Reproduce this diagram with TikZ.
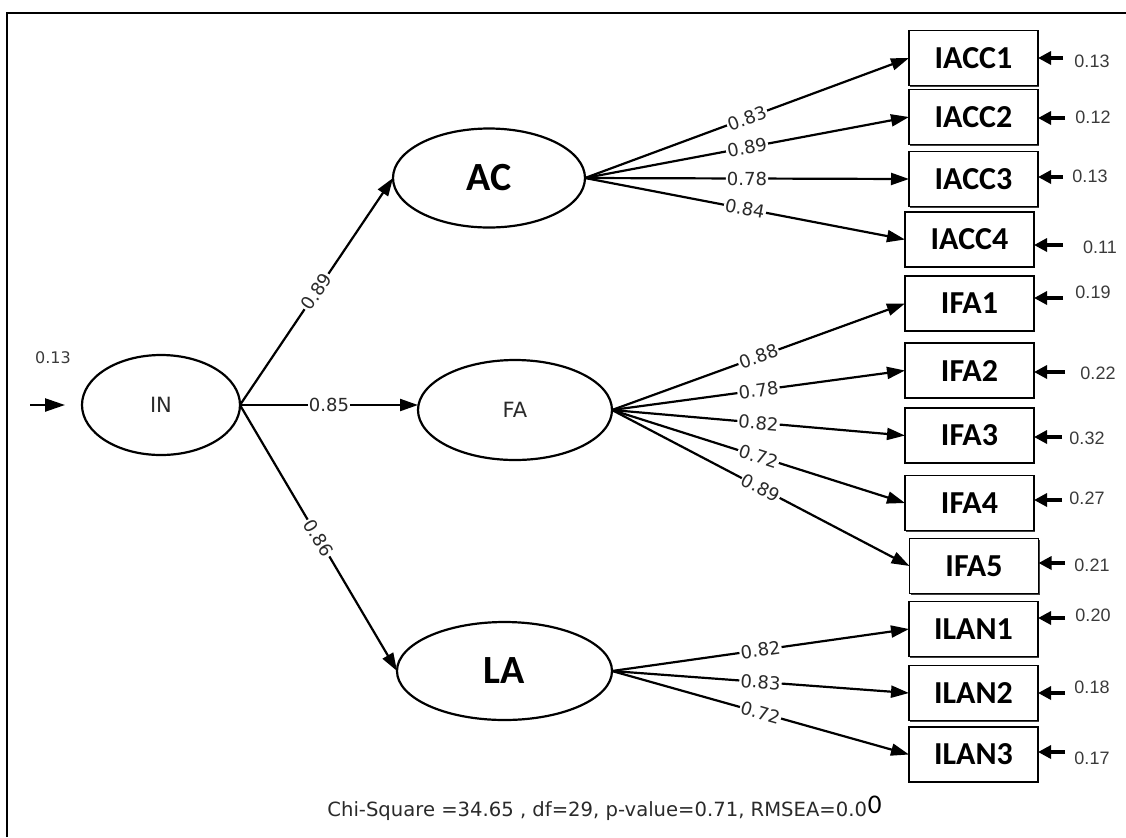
\documentclass[tikz,border=0pt]{standalone}
\usepackage{fontspec}
\setmainfont{DejaVu Sans}
\newfontfamily\carlito{Carlito}
\newfontfamily\libsans{Liberation Sans}
\usetikzlibrary{shapes.geometric,arrows.meta,shadows}
\definecolor{txtgray}{HTML}{2A2A2A}
\definecolor{errgray}{HTML}{3A3A3A}

\begin{document}
\begin{tikzpicture}[x=0.5pt,y=-0.5pt,
  latent/.style={ellipse, draw, line width=1.1pt, inner sep=0pt, outer sep=0pt},
  biglabel/.style={font=\carlito\bfseries\fontsize{20}{22}\selectfont},
  smalllabel/.style={font=\fontsize{10.5}{12}\selectfont, text=txtgray},
  indicator/.style={rectangle, draw, line width=0.9pt, fill=white,
    minimum width=64.5pt, minimum height=27.5pt, inner sep=0pt, outer sep=0pt,
    font=\carlito\bfseries\fontsize{16}{18}\selectfont,
    drop shadow={shadow xshift=0.6pt, shadow yshift=-0.6pt, fill=black, opacity=0.75}},
  load/.style={line width=1.1pt, -{Triangle[length=9pt,width=6pt]}},
  coef/.style={midway, sloped, fill=white, inner sep=0.6pt,
    font=\fontsize{9}{10}\selectfont, text=txtgray},
  err/.style={line width=1.6pt, -{Triangle[length=6.5pt,width=6.5pt]}},
  errlab/.style={font=\libsans\fontsize{9}{10}\selectfont, text=errgray, inner sep=0pt},
  fitlab/.style={inner sep=0pt, anchor=base west}
]
\useasboundingbox (0,0) rectangle (1126,837);

% frame
\draw[line width=1.1pt] (7,837) -- (7,13) -- (1126,13);

% latent variables
\node[latent, minimum width=79pt, minimum height=50pt, smalllabel] (IN) at (161,405) {IN};
\node[latent, minimum width=96pt, minimum height=49.5pt, biglabel] (AC) at (489,178) {AC};
\node[latent, minimum width=97pt, minimum height=50pt, smalllabel] (FA) at (515,410) {FA};
\node[latent, minimum width=107.5pt, minimum height=49pt, biglabel] (LA) at (504.5,671) {LA};

% observed indicators
\node[indicator] (IACC1) at (973.5,58) {IACC1};
\node[indicator] (IACC2) at (973.5,117) {IACC2};
\node[indicator] (IACC3) at (973.5,179) {IACC3};
\node[indicator] (IACC4) at (969.5,239.5) {IACC4};
\node[indicator] (IFA1) at (969.5,303.5) {IFA1};
\node[indicator] (IFA2) at (969.5,370.5) {IFA2};
\node[indicator] (IFA3) at (969.5,435.5) {IFA3};
\node[indicator] (IFA4) at (969.5,503) {IFA4};
\node[indicator] (IFA5) at (974,566) {IFA5};
\node[indicator] (ILAN1) at (973.5,629) {ILAN1};
\node[indicator] (ILAN2) at (973.5,693) {ILAN2};
\node[indicator] (ILAN3) at (973.5,754.5) {ILAN3};

% structural paths
\draw[load] (IN.east) -- node[coef]{0.89} (AC.west);
\draw[load] (IN.east) -- node[coef]{0.85} (IN.east -| FA.west);
\draw[load] (IN.east) -- node[coef]{0.86} (LA.west);

% loadings
\draw[load] (AC.east) -- node[coef]{0.83} (IACC1.west);
\draw[load] (AC.east) -- node[coef]{0.89} (IACC2.west);
\draw[load] (AC.east) -- node[coef]{0.78} (IACC3.west);
\draw[load] (AC.east) -- node[coef]{0.84} (IACC4.west);

\draw[load] (FA.east) -- node[coef]{0.88} (IFA1.west);
\draw[load] (FA.east) -- node[coef]{0.78} (IFA2.west);
\draw[load] (FA.east) -- node[coef]{0.82} (IFA3.west);
\draw[load] (FA.east) -- node[coef]{0.72} (IFA4.west);
\draw[load] (FA.east) -- node[coef]{0.89} (IFA5.west);

\draw[load] (LA.east) -- node[coef]{0.82} (ILAN1.west);
\draw[load] (LA.east) -- node[coef]{0.83} (ILAN2.west);
\draw[load] (LA.east) -- node[coef]{0.72} (ILAN3.west);

% disturbance of IN
\coordinate (inerr) at (30,405);
\coordinate (inerrtip) at (65,405);
\draw[line width=1.2pt, -{Triangle[length=10pt,width=6.5pt]}] (inerr) -- (inerrtip);
\node[font=\fontsize{8}{10}\selectfont, text=errgray, inner sep=0pt] (inerrlab) at (53,358) {0.13};

% measurement errors
\coordinate (e1) at (1063,58);
\coordinate (e2) at (1065,118);
\coordinate (e3) at (1063,177);
\coordinate (e4) at (1063,245);
\coordinate (e5) at (1063,298);
\coordinate (e6) at (1065,372);
\coordinate (e7) at (1062,437);
\coordinate (e8) at (1062,500);
\coordinate (e9) at (1065,563);
\coordinate (e10) at (1065,618);
\coordinate (e11) at (1065,693);
\coordinate (e12) at (1065,752);
\draw[err] (e1) -- (e1 -| IACC1.east);
\draw[err] (e2) -- (e2 -| IACC2.east);
\draw[err] (e3) -- (e3 -| IACC3.east);
\draw[err] (e4) -- (e4 -| IACC4.east);
\draw[err] (e5) -- (e5 -| IFA1.east);
\draw[err] (e6) -- (e6 -| IFA2.east);
\draw[err] (e7) -- (e7 -| IFA3.east);
\draw[err] (e8) -- (e8 -| IFA4.east);
\draw[err] (e9) -- (e9 -| IFA5.east);
\draw[err] (e10) -- (e10 -| ILAN1.east);
\draw[err] (e11) -- (e11 -| ILAN2.east);
\draw[err] (e12) -- (e12 -| ILAN3.east);

\node[errlab] (r1) at (1092,61) {0.13};
\node[errlab] (r2) at (1093,117) {0.12};
\node[errlab] (r3) at (1090,176) {0.13};
\node[errlab] (r4) at (1100,247) {0.11};
\node[errlab] (r5) at (1093,292) {0.19};
\node[errlab] (r6) at (1098,373) {0.22};
\node[errlab] (r7) at (1087,438) {0.32};
\node[errlab] (r8) at (1087,498) {0.27};
\node[errlab] (r9) at (1092,565) {0.21};
\node[errlab] (r10) at (1093,615) {0.20};
\node[errlab] (r11) at (1092,687) {0.18};
\node[errlab] (r12) at (1092,758) {0.17};

% fit statistics
\node[fitlab, font=\fontsize{9.8}{11}\selectfont, text=txtgray] (fit) at (327,816)
  {Chi-Square =34.65 , df=29, p-value=0.71, RMSEA=0.0};
\node[fitlab, font=\carlito\fontsize{13.5}{15}\selectfont] (fitend) at ([yshift=1.5pt]fit.base east) {0};
\end{tikzpicture}
\end{document}
